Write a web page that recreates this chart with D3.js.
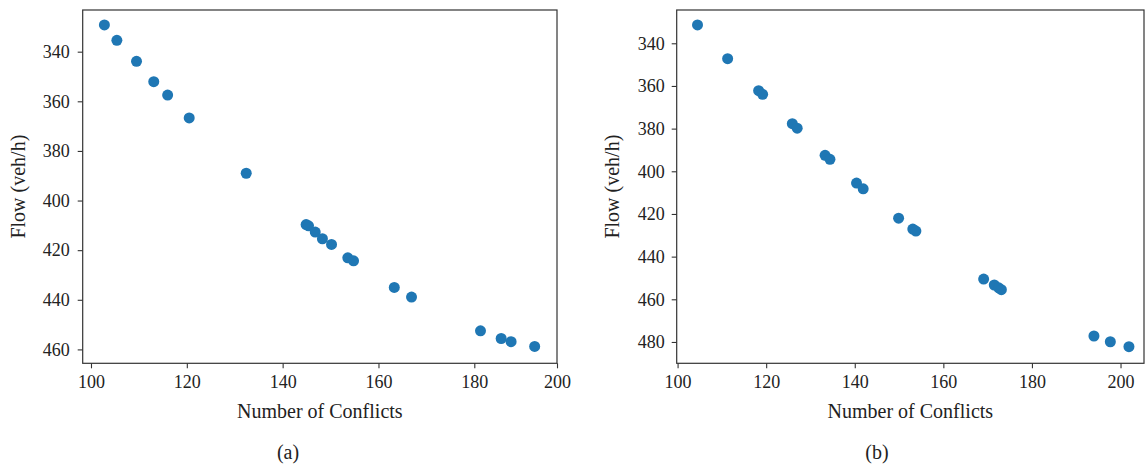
<!DOCTYPE html>
<html lang="en">
<head>
<meta charset="utf-8">
<script src="https://cdn.jsdelivr.net/npm/d3@7"></script>
<style type="text/css">
    body { margin: 0; background: #fff; }
    .axis line { stroke: #333; stroke-width: 1.1; }
    .axis path { display: none; }
    .axis text {
        font-family: "Liberation Serif", serif;
        font-size: 18px;
        fill: #222;
    }
    .label {
        font-family: "Liberation Serif", serif;
        font-size: 20px;
        fill: #222;
    }
</style>
</head>
<body>
<script>
// panel (a)
const conflictsA = [102.8, 105.4, 109.5, 113.1, 116.0, 120.5, 132.4, 144.9, 145.4, 146.8, 148.3,
                    150.2, 153.6, 154.8, 163.3, 166.9, 181.5, 186.5, 188.9, 194.6];
const flowA = [329.2, 335.4, 343.9, 352.1, 357.5, 366.7, 389.0, 409.7, 410.2, 412.7, 415.4,
               417.7, 423.1, 424.3, 435.0, 438.9, 452.5, 455.6, 456.9, 458.8];
// panel (b)
const conflictsB = [104.5, 111.3, 118.3, 119.2, 125.9, 127.0, 133.3, 134.4, 140.4, 141.9, 149.9,
                    153.1, 153.8, 169.1, 171.5, 172.5, 173.1, 194.0, 197.7, 201.9];
const flowB = [331.4, 347.2, 362.2, 363.9, 377.7, 379.8, 392.5, 394.4, 405.5, 408.2, 422.0,
               427.1, 428.0, 450.5, 453.3, 454.6, 455.5, 477.2, 479.9, 482.2];

const xTicks = [100, 120, 140, 160, 180, 200];
const yTicksA = [340, 360, 380, 400, 420, 440, 460];
const yTicksB = [340, 360, 380, 400, 420, 440, 460, 480];

const w = 1146, h = 469;
const yTop = 10, yBottom = 363.3;

let svg = d3.select("body").append("svg")
    .attr("width", w)
    .attr("height", h);

const panels = [
    {
        xs: conflictsA, ys: flowA, yTicks: yTicksA, tag: "(a)",
        xScale: d3.scaleLinear().domain([98.27, 180, 200]).range([82.7, 474.3, 557]),
        yScale: d3.scaleLinear().domain([323.2, 465.6]).range([yTop, yBottom]),
        ylabX: 18, yPad: 8
    },
    {
        xs: conflictsB, ys: flowB, yTicks: yTicksB, tag: "(b)",
        xScale: d3.scaleLinear().domain([99.8, 205.3]).range([676.7, 1144]),
        yScale: d3.scaleLinear().domain([324.4, 490]).range([yTop, yBottom]),
        ylabX: 612, yPad: 7
    }
];

panels.forEach((p) => {
    let x0 = p.xScale.range()[0];
    let x1 = p.xScale.range()[p.xScale.range().length - 1];
    let g = svg.append("g");

    g.append("g")
        .attr("class", "axis")
        .attr("transform", "translate(0," + yBottom + ")")
        .call(d3.axisBottom(p.xScale).tickValues(xTicks).tickSize(5).tickPadding(7));

    g.append("g")
        .attr("class", "axis")
        .attr("transform", "translate(" + x0 + ",0)")
        .call(d3.axisLeft(p.yScale).tickValues(p.yTicks).tickSize(5).tickPadding(p.yPad));

    g.append("rect")
        .attr("x", x0)
        .attr("y", yTop)
        .attr("width", x1 - x0)
        .attr("height", yBottom - yTop)
        .attr("fill", "none")
        .attr("stroke", "#333")
        .attr("stroke-width", 1.2);

    g.selectAll("circle")
        .data(p.xs.map((d, i) => [d, p.ys[i]]))
        .enter()
        .append("circle")
        .attr("cx", (d) => p.xScale(d[0]))
        .attr("cy", (d) => p.yScale(d[1]))
        .attr("r", 5.5)
        .attr("fill", "#1f77b4");

    let cx = (x0 + x1) / 2;
    g.append("text")
        .attr("class", "label")
        .attr("x", cx)
        .attr("y", 418)
        .attr("text-anchor", "middle")
        .text("Number of Conflicts");

    g.append("text")
        .attr("class", "label")
        .attr("transform", "translate(" + p.ylabX + "," + ((yTop + yBottom) / 2) + ") rotate(-90)")
        .attr("text-anchor", "middle")
        .attr("dy", "0.35em")
        .text("Flow (veh/h)");

    g.append("text")
        .attr("class", "label")
        .attr("x", p.tag == "(a)" ? 288 : 877)
        .attr("y", 459)
        .attr("text-anchor", "middle")
        .text(p.tag);
});
</script>
</body>
</html>
